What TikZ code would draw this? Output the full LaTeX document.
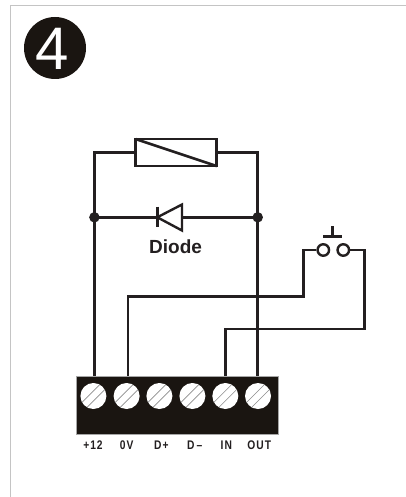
\documentclass[tikz,border=0pt]{standalone}
\usepackage{fontspec}
\setmainfont{Liberation Sans}
\newfontfamily\pinfont[LetterSpace=8,FakeStretch=0.82]{Liberation Sans Bold}
\definecolor{ink}{HTML}{231F20}
\definecolor{blockk}{HTML}{1A1511}
\definecolor{frame}{HTML}{C4C4C4}
\tikzset{
  x=1pt,y=-1pt,
  wire/.style={draw=ink,line width=2.7pt,line join=miter},
  screw/.style={circle,fill=white,draw=none,minimum size=26pt,inner sep=0pt,outer sep=0pt},
  hatch/.style={draw=black!45,line width=0.6pt},
  junction/.style={circle,fill=ink,minimum size=10.5pt,inner sep=0pt},
  contact/.style={circle,draw=ink,fill=white,line width=2.4pt,minimum size=11.5pt,inner sep=0pt},
  pin/.style={font=\pinfont\fontsize{12.5}{14}\selectfont,text=ink,inner sep=0pt,anchor=center},
}
\begin{document}
\begin{tikzpicture}
\useasboundingbox (0,0) rectangle (406,497);
\fill[white] (0,0) rectangle (406,497);
% frame
\draw[frame,line width=1.6pt] (10.5,497) -- (10.5,5.5) -- (406,5.5);
% badge
\node[circle,fill=blockk,minimum size=62pt,inner sep=0pt] (badge) at (55,48) {};
\node[text=white,inner sep=0pt,font=\fontsize{60}{60}\selectfont] (num) at (52.5,48.5) {4};
% terminal block
\node[rectangle,fill=blockk,draw=black!35,line width=0.5pt,minimum width=202.5pt,minimum height=58pt,inner sep=0pt,outer sep=0pt] (block) at (177.4,405) {};
\foreach \n/\cx in {1/93.4,2/126.6,3/159.4,4/192.4,5/225.3,6/258}{
  \node[screw] (s\n) at (\cx,396) {};
  \draw[hatch] (\cx-11.4,396+6.4) -- (\cx+6.4,396-11.4);
  \draw[hatch] (\cx-6.4,396+11.4) -- (\cx+11.4,396-6.4);
}
% pin labels
\node[pin] (p1) at (93,445.5) {+12};
\node[pin] (p2) at (126.6,445.5) {0V};
\node[pin] (p3) at (161.3,445.5) {D+};
\node[pin] (p4) at (194.8,445.5) {D\,–};
\node[pin] (p5) at (226.3,445.5) {IN};
\node[pin] (p6) at (259.2,445.5) {OUT};
% wire drop points on the block's top edge
\coordinate (d1) at (94.4,376);
\coordinate (d2) at (128,376);
\coordinate (d5) at (225.7,376);
\coordinate (d6) at (257.7,376);
% coil
\node[rectangle,draw=ink,line width=2.7pt,fill=white,minimum width=81pt,minimum height=27pt,inner sep=0pt,outer sep=0pt] (coil) at (176.3,152.6) {};
\draw[ink,line width=2.6pt] (coil.north west) -- (coil.south east);
% junctions
\node[junction] (jl) at (94.4,217.3) {};
\node[junction] (jr) at (257.7,217.3) {};
% main wires
\draw[wire] (coil.west) -| (jl.center);
\draw[wire] (coil.east) -| (jr.center);
\draw[wire] (jl.center) -- (d1);
\draw[wire] (jr.center) -- (d6);
% diode
\coordinate (dk) at (157.3,217.3);
\coordinate (da) at (182,217.3);
\draw[wire] (jl.center) -- (dk);
\draw[wire] (da) -- (jr.center);
\draw[ink,line width=2.5pt] (157.3,206.5) -- (157.3,227);
\draw[ink,line width=2.4pt,line join=miter] (da) -- (182,204.5) -- (dk) -- (182,230.5) -- cycle;
\node[font=\bfseries\fontsize{19}{20}\selectfont,text=ink,inner sep=0pt] (dlabel) at (175.6,246.8) {Diode};
% switch
\node[contact] (c1) at (323.3,250) {};
\node[contact] (c2) at (343.3,250) {};
\coordinate (tbar) at (332.6,236.3);
\coordinate (ttop) at (332.6,225.5);
\draw[ink,line width=2.4pt] (323.2,236.3) -- (342.2,236.3);
\draw[ink,line width=2.4pt] (tbar) -- (ttop);
% switch wiring
\coordinate (k1) at (303.3,296.7);
\coordinate (k2) at (364.3,329);
\draw[wire] (c1.west) -| (k1) -| (d2);
\draw[wire] (c2.east) -| (k2) -| (d5);
\end{tikzpicture}
\end{document}
